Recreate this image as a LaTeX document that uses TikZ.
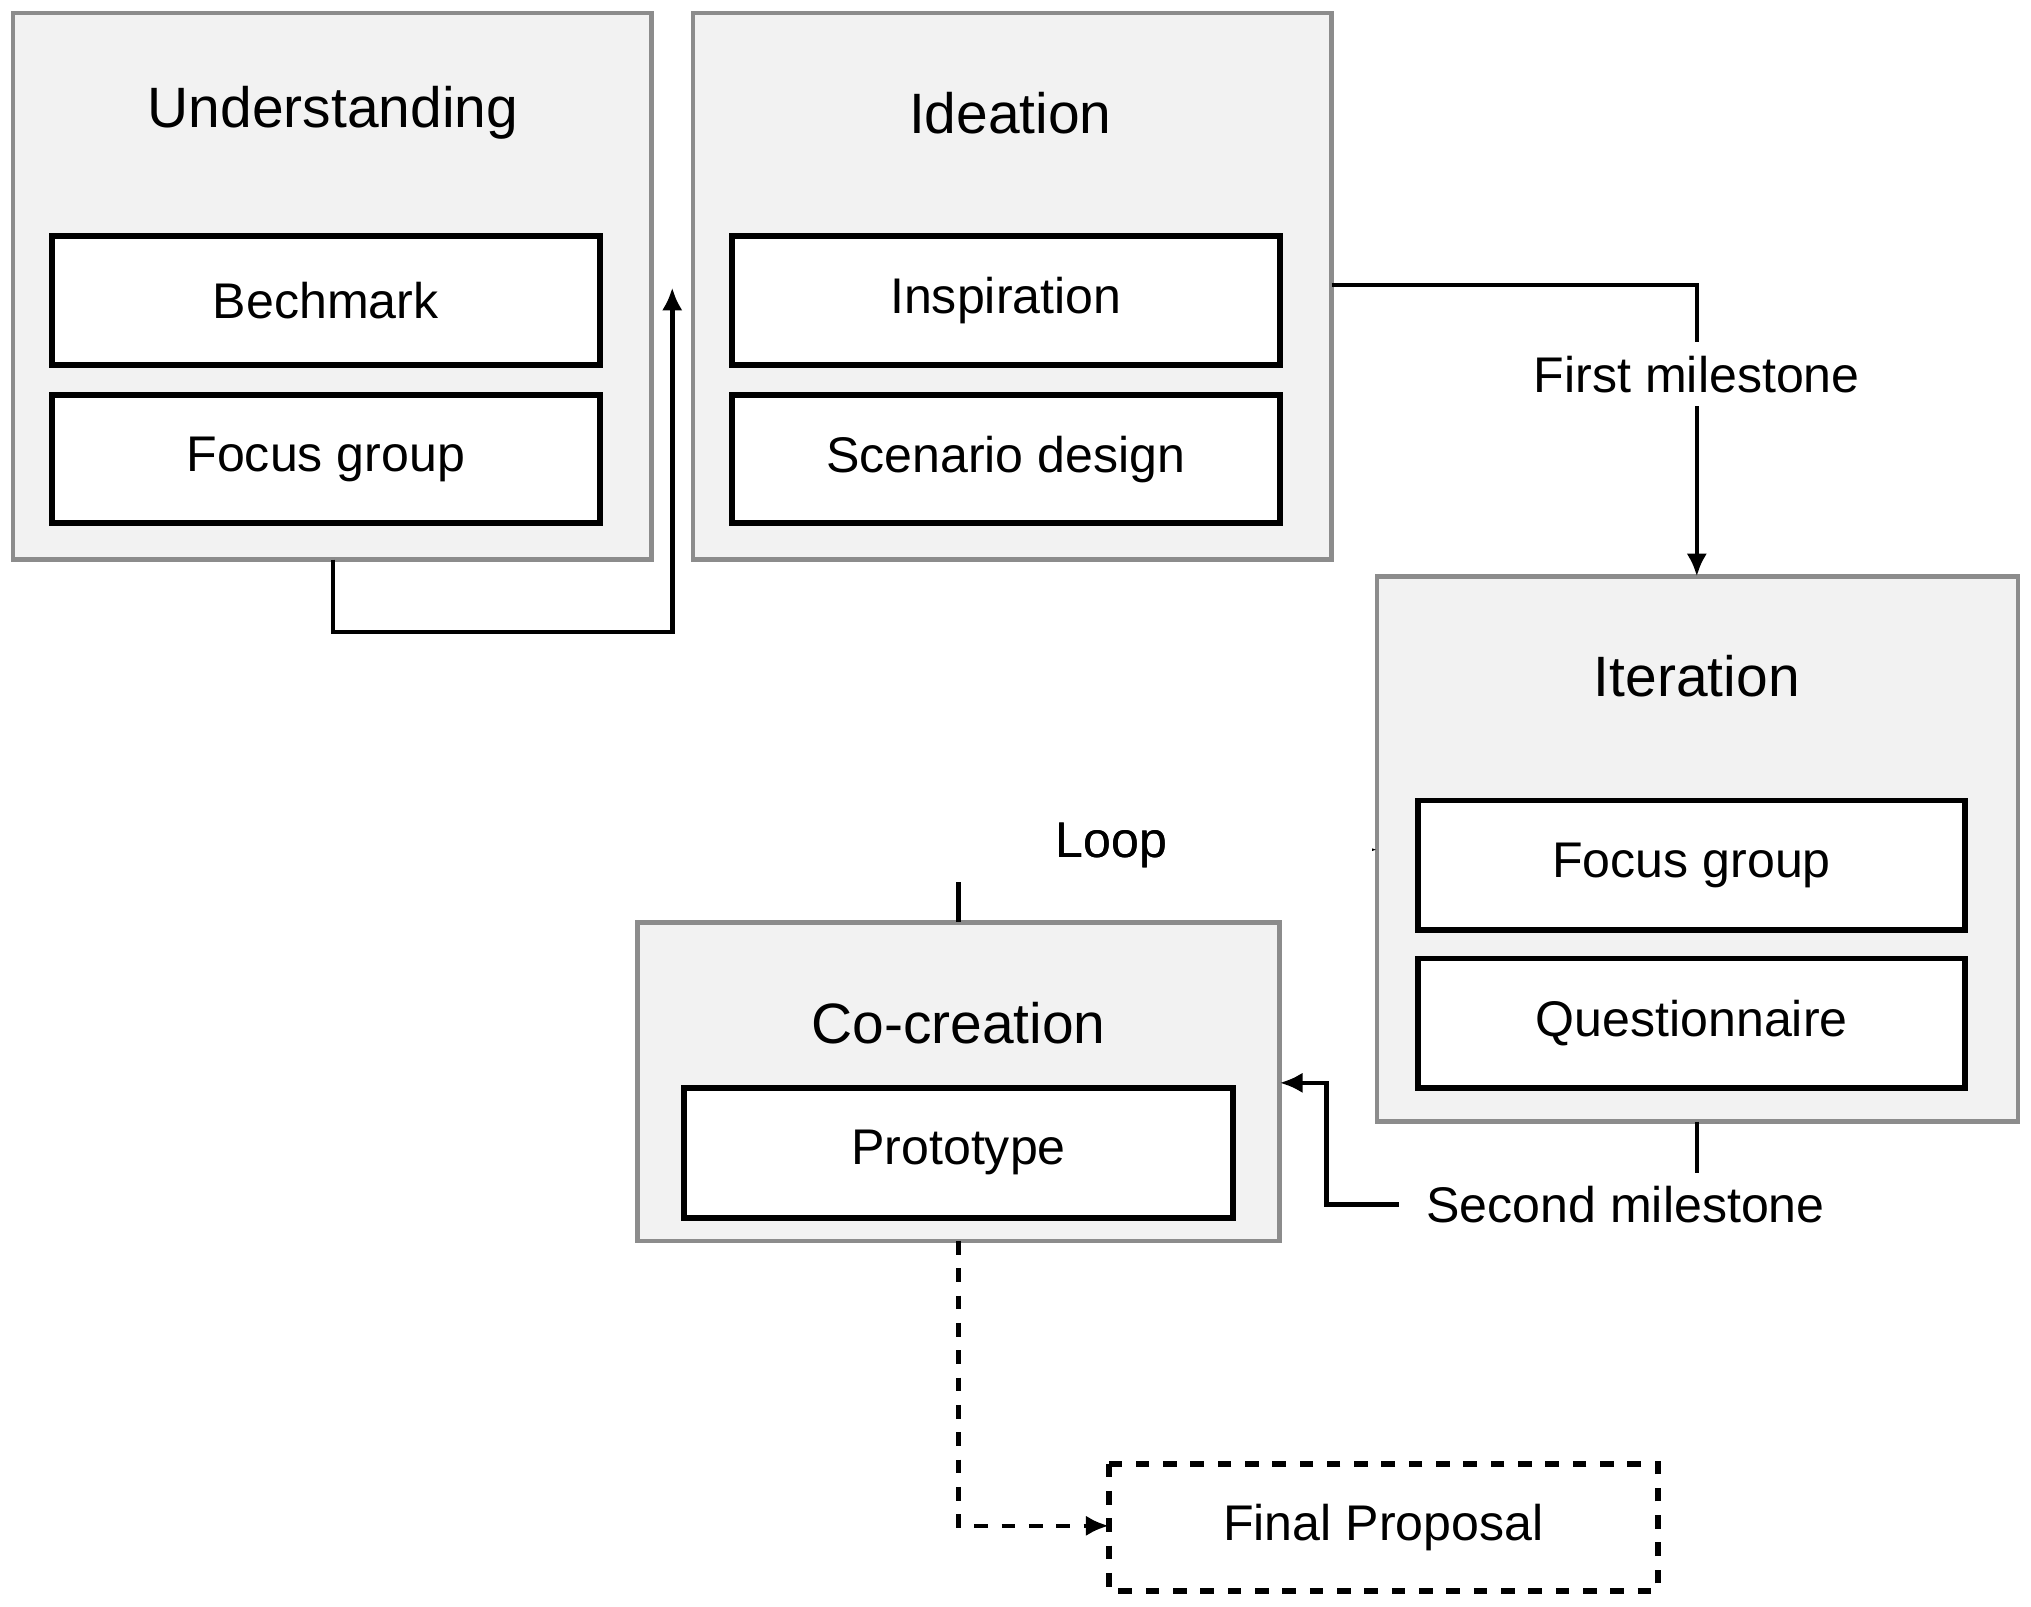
\documentclass[tikz,border=0pt]{standalone}
\usepackage{fontspec}
\setmainfont{Liberation Sans}
\usetikzlibrary{arrows.meta}
\begin{document}
\begin{tikzpicture}[x=0.01cm,y=-0.01cm,
  outer/.style={draw=black!45,fill=black!5,line width=1pt},
  inner/.style={draw=black,fill=white,line width=1.3pt},
  ttl/.style={font=\fontsize{12.5}{14}\selectfont},
  itx/.style={font=\fontsize{11}{13}\selectfont},
  conn/.style={line width=1pt,-{Latex[length=5pt,width=4.5pt]}},
  lbl/.style={fill=white,inner sep=3pt,font=\fontsize{11}{13}\selectfont}]
\useasboundingbox (0,0) rectangle (1568,1240);
% Understanding
\draw[outer] (10,10) rectangle (503,432);
\node[ttl] (tU) at (257,87) {Understanding};
\draw[inner] (40,182) rectangle node[itx] (bm) {Bechmark} (463,282);
\draw[inner] (40,305) rectangle node[itx] (fg1) {Focus group} (463,404);
% Ideation
\draw[outer] (535,10) rectangle (1028,432);
\node[ttl] (tI) at (780,87) {Ideation};
\draw[inner] (565,182) rectangle node[itx] (insp) {Inspiration} (988,282);
\draw[inner] (565,305) rectangle node[itx] (sd) {Scenario design} (988,404);
% Iteration
\draw[outer] (1063,445) rectangle (1558,866);
\node[ttl] (tIt) at (1310,522) {Iteration};
\draw[inner] (1095,618) rectangle node[itx] (fg2) {Focus group} (1517,718);
\draw[inner] (1095,740) rectangle node[itx] (q) {Questionnaire} (1517,840);
% Co-creation
\draw[outer] (492,712) rectangle (988,958);
\node[ttl] (tC) at (740,790) {Co-creation};
\draw[inner] (528,840) rectangle node[itx] (pr) {Prototype} (952,940);
% Final
\draw[dashed,line width=1.3pt] (856,1130) rectangle node[itx] (fp) {Final Proposal} (1280,1228);
% connectors
\coordinate (a1) at (257,432); \coordinate (a2) at (519,222);
\draw[conn] (a1) -- (257,488) -- (519,488) -- (a2);
\coordinate (b1) at (1028,220); \coordinate (b2) at (1310,445);
\draw[conn] (b1) -- (1310,220) -- (b2);
\node[lbl] (fm) at (1310,289) {First milestone};
\coordinate (c1) at (740,712); \coordinate (c2) at (1063,656);
\draw[conn] (c1) -- (740,656) -- (c2);
\node[lbl,inner xsep=45pt] (lp) at (858,653) {Loop};
\node[itx] at (858,653) {Loop};
\coordinate (d1) at (1310,866); \coordinate (d2) at (988,836);
\draw[conn] (d1) -- (1310,930) -- (1024,930) -- (1024,836) -- (d2);
\node[lbl,inner xsep=6pt] (sm) at (1255,930) {Second milestone};
\coordinate (e1) at (740,958); \coordinate (e2) at (856,1178);
\draw[conn,dashed] (e1) -- (740,1178) -- (e2);
\end{tikzpicture}
\end{document}
